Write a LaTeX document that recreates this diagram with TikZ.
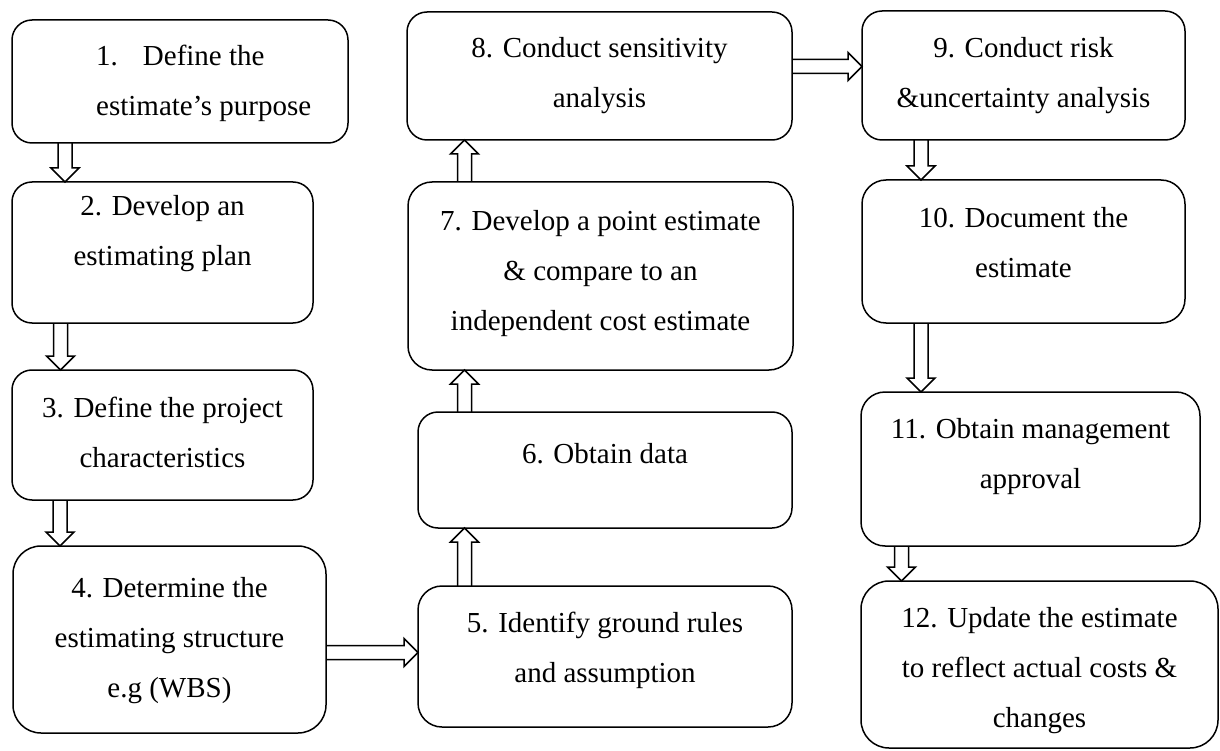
\documentclass[tikz,border=0pt]{standalone}
\usepackage{fontspec}
\setmainfont{Liberation Serif}
\usetikzlibrary{calc}

% block arrow dimensions (pt): shaft half width, head half width, head length
\newcommand\arrshaft{7}
\newcommand\arrhead{14}
\newcommand\arrlen{14}

\tikzset{
  stepbox/.style={draw, line width=1.5pt, rounded corners=20pt, inner sep=0pt,
    outer sep=0pt, anchor=north west},
  steptext/.style={inner sep=0pt, align=center, anchor=north,
    font=\fontsize{29}{50}\selectfont},
  blockarrow/.style={draw, line width=1.5pt, line join=miter,
    to path={
      let \p1=(\tikztostart), \p2=(\tikztotarget),
          \n1={atan2((\y2)-(\y1),(\x2)-(\x1))},
          \n2={veclen((\x2)-(\x1),(\y2)-(\y1))-\arrlen},
          \n3={cos(\n1)}, \n4={sin(\n1)}
      in
      ({\x1-\arrshaft*\n4},{\y1+\arrshaft*\n3})
      -- ({\x1+\n2*\n3-\arrshaft*\n4},{\y1+\n2*\n4+\arrshaft*\n3})
      -- ({\x1+\n2*\n3-\arrhead*\n4},{\y1+\n2*\n4+\arrhead*\n3})
      -- (\p2)
      -- ({\x1+\n2*\n3+\arrhead*\n4},{\y1+\n2*\n4-\arrhead*\n3})
      -- ({\x1+\n2*\n3+\arrshaft*\n4},{\y1+\n2*\n4-\arrshaft*\n3})
      -- ({\x1+\arrshaft*\n4},{\y1-\arrshaft*\n3})
    }}
}

\begin{document}
\begin{tikzpicture}[x=1pt, y=-1pt]
\useasboundingbox (0,0) rectangle (1220,751);

% ---- boxes, first column ----
\node[stepbox, minimum width=336pt, minimum height=123pt] (s1) at (12,20) {};
\node[stepbox, minimum width=301pt, minimum height=141pt] (s2) at (12,182) {};
\node[stepbox, minimum width=301pt, minimum height=130pt] (s3) at (12,370) {};
\node[stepbox, minimum width=313pt, minimum height=187pt, rounded corners=28pt] (s4) at (13,546) {};

% ---- boxes, second column ----
\node[stepbox, minimum width=374pt, minimum height=141pt, rounded corners=24pt] (s5) at (418,586) {};
\node[stepbox, minimum width=374pt, minimum height=116pt] (s6) at (418,412) {};
\node[stepbox, minimum width=385pt, minimum height=188pt, rounded corners=24pt] (s7) at (408,182) {};
\node[stepbox, minimum width=385pt, minimum height=128pt] (s8) at (407,12) {};

% ---- boxes, third column ----
\node[stepbox, minimum width=323pt, minimum height=129pt] (s9) at (862,11) {};
\node[stepbox, minimum width=323pt, minimum height=143pt, rounded corners=24pt] (s10) at (862,180) {};
\node[stepbox, minimum width=339pt, minimum height=154pt, rounded corners=24pt] (s11) at (861,392) {};
\node[stepbox, minimum width=357pt, minimum height=167pt, rounded corners=28pt] (s12) at (861,581) {};

% ---- labels ----
\node[steptext, align=left, anchor=north west] (t1) at ($(s1.north west)+(84,25)$)
  {1.\hspace{25pt}Define the\\estimate’s purpose};
\node[steptext] (t2) at ($(s2.north)+(0,13)$) {2. Develop an\\estimating plan};
\node[steptext] (t3) at ($(s3.north)+(0,27)$) {3. Define the project\\characteristics};
\node[steptext] (t4) at ($(s4.north)+(0,31)$) {4. Determine the\\estimating structure\\e.g (WBS)};
\node[steptext] (t5) at ($(s5.north)+(0,26)$) {5. Identify ground rules\\and assumption};
\node[steptext] (t6) at ($(s6.north)+(0,31)$) {6. Obtain data};
\node[steptext] (t7) at ($(s7.north)+(0,28)$) {7. Develop a point estimate\\\& compare to an\\independent cost estimate};
\node[steptext] (t8) at ($(s8.north)+(0,25)$) {8. Conduct sensitivity\\analysis};
\node[steptext] (t9) at ($(s9.north)+(0,26)$) {9. Conduct risk\\\&uncertainty analysis};
\node[steptext] (t10) at ($(s10.north)+(0,27)$) {10. Document the\\estimate};
\node[steptext] (t11) at ($(s11.north)+(0,26)$) {11. Obtain management\\approval};
\node[steptext] (t12) at ($(s12.north)+(0,26)$) {12. Update the estimate\\to reflect actual costs \&\\changes};

% ---- arrow lanes ----
\coordinate (c12) at (65,0);
\coordinate (c23) at (60.5,0);
\coordinate (c34) at (60,0);
\coordinate (cmid) at (464.5,0);
\coordinate (cright) at (921,0);
\coordinate (c1112) at (901.5,0);
\coordinate (c45) at (0,652.5);
\coordinate (c89) at (0,66.5);

% ---- block arrows ----
\draw[blockarrow] (s1.south -| c12) to (s2.north -| c12);
\draw[blockarrow] (s2.south -| c23) to (s3.north -| c23);
\draw[blockarrow] (s3.south -| c34) to (s4.north -| c34);
\draw[blockarrow] (s4.east |- c45) to (s5.west |- c45);
\draw[blockarrow] (s5.north -| cmid) to (s6.south -| cmid);
\draw[blockarrow] (s6.north -| cmid) to (s7.south -| cmid);
\draw[blockarrow] (s7.north -| cmid) to (s8.south -| cmid);
\draw[blockarrow] (s8.east |- c89) to (s9.west |- c89);
\draw[blockarrow] (s9.south -| cright) to (s10.north -| cright);
\draw[blockarrow] (s10.south -| cright) to (s11.north -| cright);
\draw[blockarrow] (s11.south -| c1112) to (s12.north -| c1112);
\end{tikzpicture}
\end{document}
